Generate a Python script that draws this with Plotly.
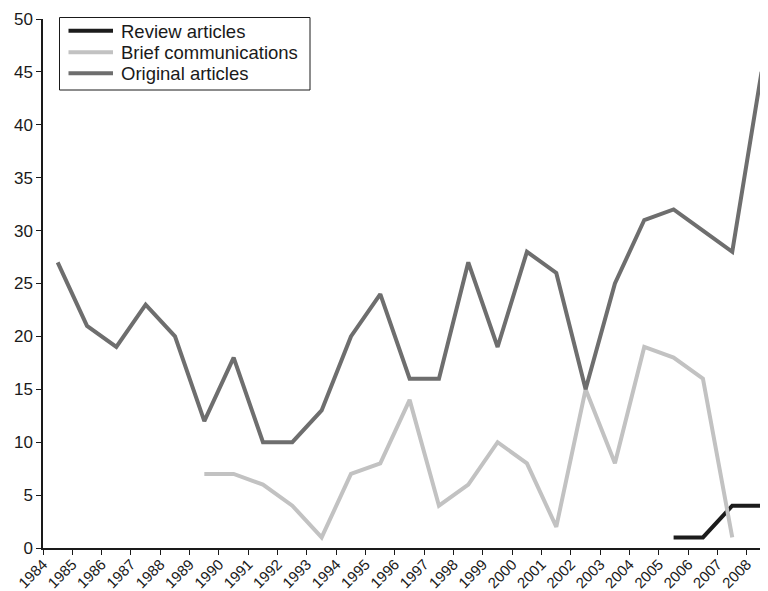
import plotly.graph_objects as go

# Data (points sit mid-year)
years_original = [1984.5, 1985.5, 1986.5, 1987.5, 1988.5, 1989.5, 1990.5, 1991.5, 1992.5,
                  1993.5, 1994.5, 1995.5, 1996.5, 1997.5, 1998.5, 1999.5, 2000.5, 2001.5,
                  2002.5, 2003.5, 2004.5, 2005.5, 2006.5, 2007.5, 2008.5]
original_articles = [27, 21, 19, 23, 20, 12, 18, 10, 10, 13, 20, 24, 16, 16, 27, 19, 28, 26,
                     15, 25, 31, 32, 30, 28, 45]

years_brief = [1989.5, 1990.5, 1991.5, 1992.5, 1993.5, 1994.5, 1995.5, 1996.5, 1997.5,
               1998.5, 1999.5, 2000.5, 2001.5, 2002.5, 2003.5, 2004.5, 2005.5, 2006.5, 2007.5]
brief_communications = [7, 7, 6, 4, 1, 7, 8, 14, 4, 6, 10, 8, 2, 15, 8, 19, 18, 16, 1]

years_review = [2005.5, 2006.5, 2007.5, 2008.5]
review_articles = [1, 1, 4, 4]

series_names = ["Review articles", "Brief communications", "Original articles"]
series_colors = ["#1c1c1c", "#c2c2c2", "#6e6e6e"]

tick_years = list(range(1984, 2009))
tick_labels = [str(y) for y in tick_years]

FONT = "Liberation Sans, Arial, Helvetica, sans-serif"
TEXT = "#1a1a1a"

# Figure geometry (page has an 8px body margin)
W, H = 760, 583
ML, MR, MT, MB = 35, 2, 11, 43
PW, PH = W - ML - MR, H - MT - MB
OFF = 8


def px(page_x):
    return (page_x - OFF - ML) / PW


def py(page_y):
    return (H - MB - (page_y - OFF)) / PH


fig = go.Figure()
for name, color, xs, ys in zip(series_names, series_colors,
                               [years_review, years_brief, years_original],
                               [review_articles, brief_communications, original_articles]):
    fig.add_trace(go.Scatter(x=xs, y=ys, mode="lines", name=name,
                             line=dict(color=color, width=4), showlegend=False))

# Legend box drawn as shapes + text
shapes = [dict(type="rect", xref="paper", yref="paper", layer="above",
               x0=px(59.5), x1=px(310), y0=py(90), y1=py(17.5),
               line=dict(color=TEXT, width=1), fillcolor="white")]
annotations = []
row_y = [30.7, 52.3, 73.3]
for name, color, ry in zip(series_names, series_colors, row_y):
    shapes.append(dict(type="line", xref="paper", yref="paper", layer="above",
                       x0=px(68.5), x1=px(113), y0=py(ry), y1=py(ry),
                       line=dict(color=color, width=4)))
    annotations.append(dict(text=name, xref="paper", yref="paper", x=px(119), y=py(ry + 0.5),
                            xanchor="left", yanchor="middle", showarrow=False,
                            font=dict(family=FONT, size=18.5, color=TEXT)))

fig.update_layout(
    template="none",
    width=W, height=H,
    margin=dict(l=ML, r=MR, t=MT, b=MB, pad=0, autoexpand=False),
    paper_bgcolor="white", plot_bgcolor="white",
    font=dict(family=FONT, size=17, color=TEXT),
    showlegend=False,
    shapes=shapes,
    annotations=annotations,
    xaxis=dict(range=[1984, 1984 + PW / 29.33], tickmode="array", tickvals=tick_years,
               ticktext=tick_labels, tickangle=-45, ticks="outside", ticklen=5,
               tickwidth=1.2, tickcolor=TEXT, showline=True, linecolor=TEXT,
               linewidth=1.5, showgrid=False, zeroline=False, automargin=False,
               ticklabelstandoff=-5,
               tickfont=dict(family=FONT, size=15, color=TEXT)),
    yaxis=dict(range=[0, 50], tickmode="array", tickvals=list(range(0, 51, 5)),
               ticks="outside", ticklen=5, tickwidth=1.2, tickcolor=TEXT,
               showline=True, linecolor=TEXT, linewidth=1.5, showgrid=False,
               zeroline=False, automargin=False,
               tickfont=dict(family=FONT, size=17, color=TEXT)),
)

fig.write_html("out.html")
